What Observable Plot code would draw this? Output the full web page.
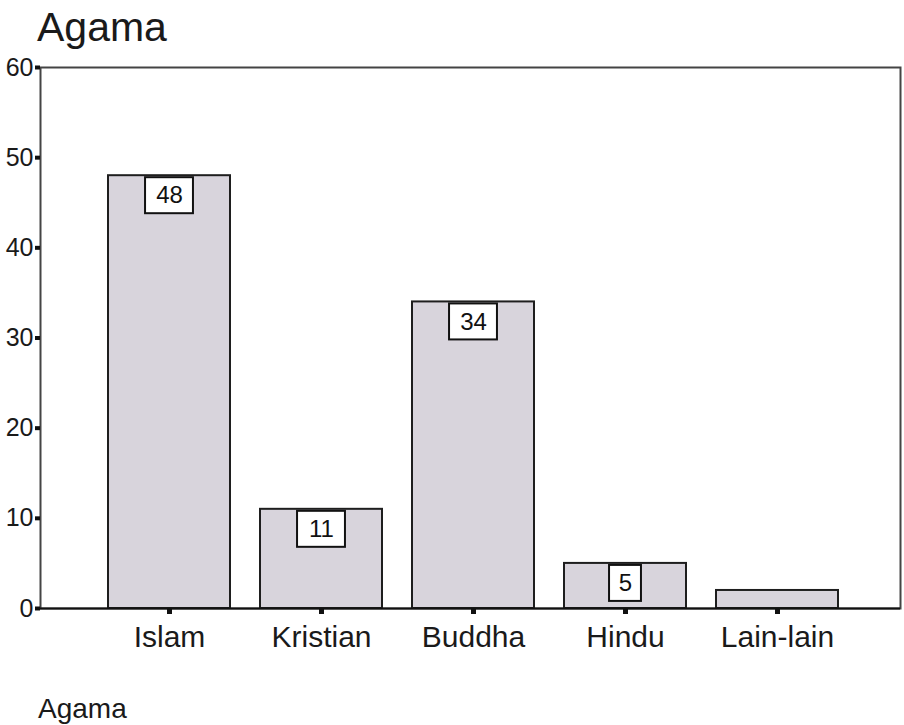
<!DOCTYPE html>
<html>
<head>
<meta charset="utf-8">
<script src="https://cdn.jsdelivr.net/npm/d3@7"></script>
<script src="https://cdn.jsdelivr.net/npm/@observablehq/plot@0.6"></script>
<style>
  body { margin: 0; background: #fff; }
  #chart { position: relative; width: 904px; height: 725px; font-family: "Liberation Sans", Arial, sans-serif; color: #1a1a1a; }
  #chart svg { position: absolute; left: 0; top: 0; }
  .title { position: absolute; left: 37px; top: 7px; font-size: 41px; line-height: 1; }
  .caption { position: absolute; left: 38px; top: 695px; font-size: 28px; line-height: 1; }
</style>
</head>
<body>
<div id="chart">
  <div class="title">Agama</div>
  <div class="caption">Agama</div>
</div>
<script>
// Religion (agama) frequency counts
const categories = ["Islam", "Kristian", "Buddha", "Hindu", "Lain-lain"];
const counts = [48, 11, 34, 5, 2];
const yTicks = [0, 10, 20, 30, 40, 50, 60];

const data = categories.map((agama, i) => ({agama, n: counts[i]}));
// value boxes only where the bar is tall enough to hold one
const labelled = data.filter(d => d.n >= 4);

// band layout for the categories
const xRange = [91, 854];
const padInner = 0.2, padOuter = 0.1;
const step = (xRange[1] - xRange[0]) / (categories.length - padInner + 2 * padOuter);
const bandwidth = step * (1 - padInner);
const boxH = 36;

function labelBox(rows, w) {
  const side = (bandwidth - w) / 2;
  return Plot.barY(rows, {
    x: "agama", y1: "n", y2: "n",
    fill: "white", stroke: "#111", strokeWidth: 2,
    insetLeft: side, insetRight: side,
    insetTop: 2, insetBottom: -(boxH + 2)
  });
}

const chart = Plot.plot({
  width: 904,
  height: 725,
  marginTop: 67,
  marginBottom: 117,
  marginLeft: 40,
  marginRight: 4,
  style: {fontFamily: '"Liberation Sans", Arial, sans-serif', color: "#1a1a1a", background: "transparent"},
  x: {domain: categories, range: xRange, paddingInner: padInner, paddingOuter: padOuter},
  y: {domain: [0, 60]},
  marks: [
    Plot.frame({stroke: "#444", strokeWidth: 2}),
    Plot.barY(data, {x: "agama", y: "n", fill: "#d8d4dc", stroke: "#1e1e1e", strokeWidth: 2}),
    labelBox(labelled.filter(d => d.n >= 10), 48),
    labelBox(labelled.filter(d => d.n < 10), 32),
    Plot.text(labelled, {x: "agama", y: "n", text: d => String(d.n), dy: 2 + boxH / 2, fontSize: 24, fill: "#111"}),
    Plot.ruleY([0], {stroke: "#111", strokeWidth: 2}),
    Plot.axisY(yTicks, {tickSize: 5, strokeWidth: 4, stroke: "#111", tickPadding: 2, fontSize: 25, label: null}),
    Plot.axisX({tickSize: 6, strokeWidth: 5, stroke: "#111", tickPadding: 11, fontSize: 30, label: null})
  ]
});

document.getElementById("chart").prepend(chart);
</script>
</body>
</html>
